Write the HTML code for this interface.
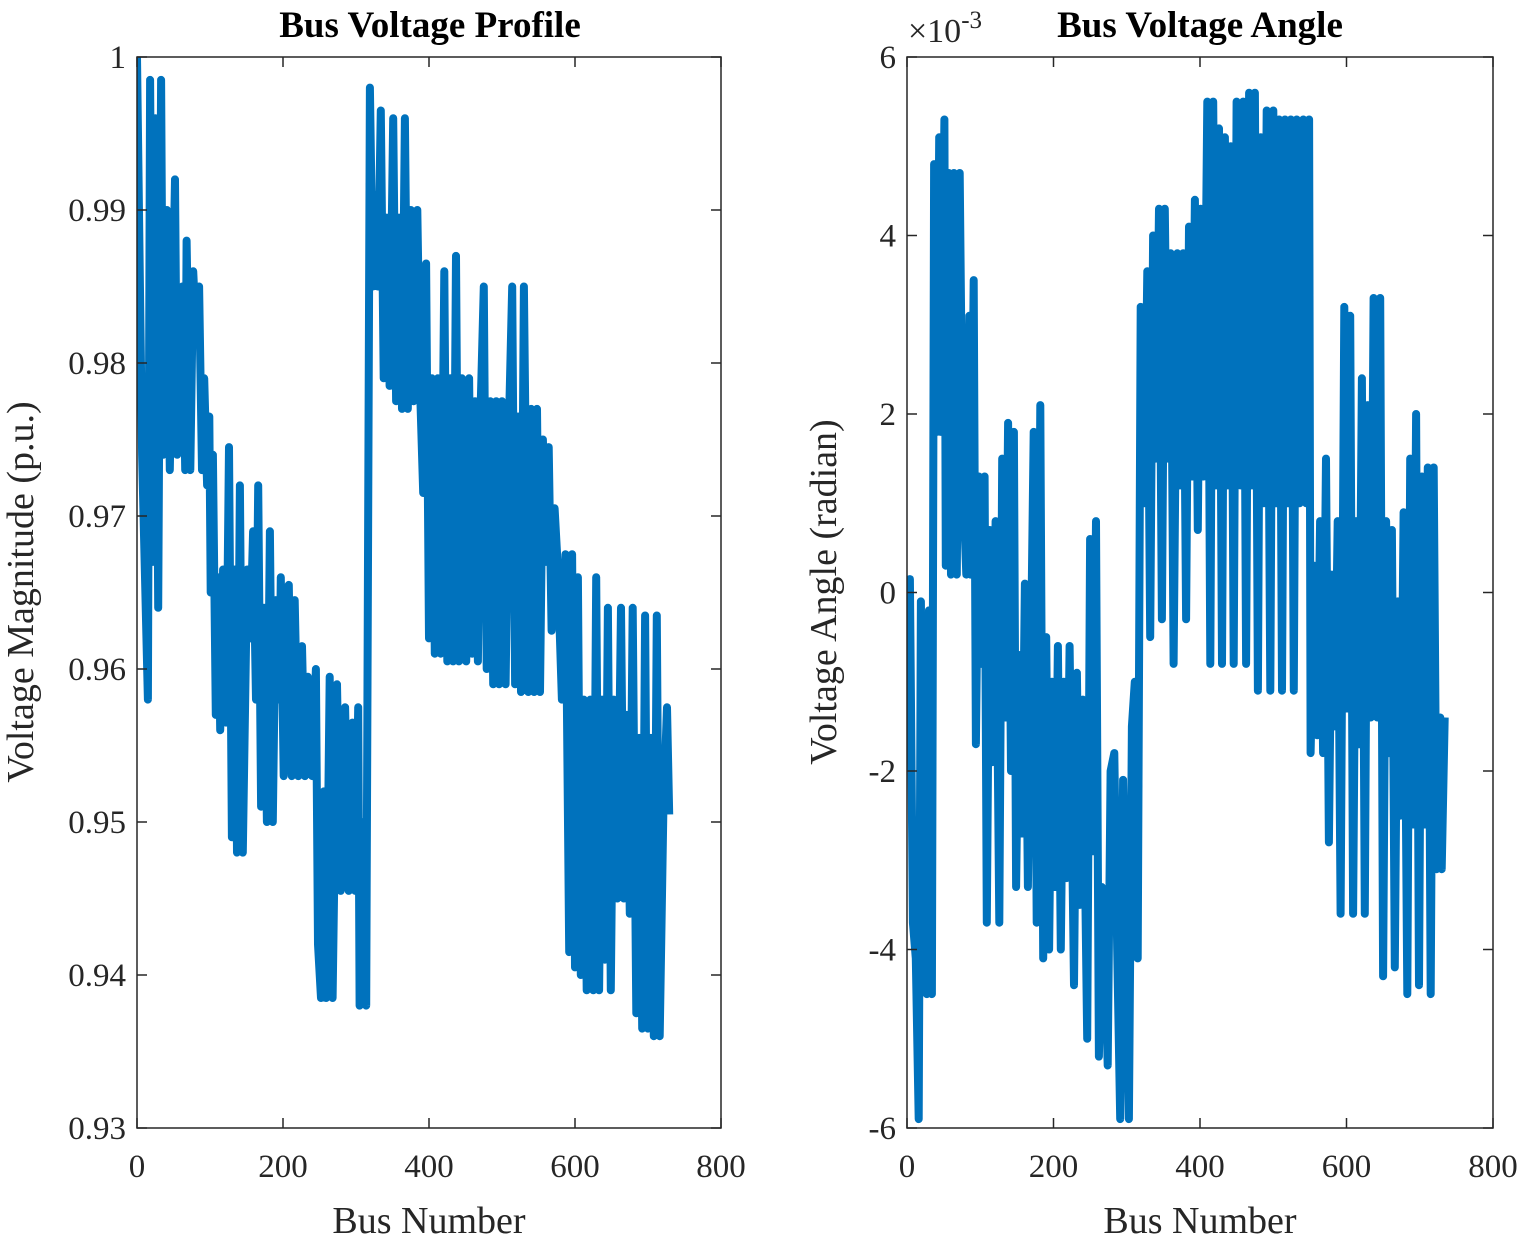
<!DOCTYPE html>
<html><head><meta charset="utf-8"><style>
html,body{margin:0;padding:0;background:#fff;}
svg{display:block;font-family:"Liberation Serif",serif;}
</style></head><body>
<svg id="chart" width="1522" height="1237" viewBox="0 0 1522 1237" xmlns="http://www.w3.org/2000/svg"></svg>
<script>
const xTicks=[0,200,400,600,800];
const magTicks=[0.93,0.94,0.95,0.96,0.97,0.98,0.99,1];
const magTickLabels=["0.93","0.94","0.95","0.96","0.97","0.98","0.99","1"];
const angTicks=[-6,-4,-2,0,2,4,6];
const angTickLabels=["-6","-4","-2","0","2","4","6"];
const magBuses=[0,7,15,18,22,25,29,33,36,41,45,52,55,62,66,68,73,77,81,85,89,92,96,99,101,104,108,111,114,118,122,126,130,134,137,141,145,151,155,159,163,166,170,174,178,182,186,190,195,197,201,208,212,216,221,226,230,234,240,245,248,252,256,259,264,268,274,279,285,290,295,299,303,305,310,314,319,323,327,330,334,338,342,346,351,355,359,363,367,371,375,379,384,388,392,396,400,404,408,412,416,421,425,429,433,437,441,445,451,455,459,463,467,471,475,479,484,488,492,496,500,505,510,514,518,522,526,530,536,540,544,548,552,556,560,564,568,572,576,582,587,592,596,600,604,608,612,616,621,625,629,633,637,641,645,649,653,658,663,667,671,675,679,684,688,692,696,700,704,708,712,716,721,726,729];
const magValues=[1.0,0.974,0.958,0.9985,0.967,0.996,0.964,0.9985,0.974,0.990,0.973,0.992,0.974,0.985,0.973,0.988,0.973,0.986,0.982,0.985,0.973,0.979,0.972,0.9765,0.965,0.974,0.957,0.966,0.956,0.9665,0.9565,0.9745,0.949,0.9665,0.948,0.972,0.948,0.9665,0.962,0.969,0.958,0.972,0.951,0.964,0.950,0.969,0.950,0.9645,0.958,0.966,0.953,0.9655,0.953,0.9645,0.953,0.9615,0.953,0.9595,0.953,0.960,0.942,0.9385,0.952,0.9385,0.9595,0.9385,0.959,0.9455,0.9575,0.9455,0.9565,0.9455,0.9575,0.938,0.950,0.938,0.998,0.985,0.991,0.985,0.9965,0.979,0.9895,0.9785,0.996,0.9775,0.9895,0.977,0.996,0.977,0.990,0.9775,0.990,0.978,0.9715,0.9865,0.962,0.979,0.961,0.979,0.961,0.986,0.9605,0.979,0.9605,0.987,0.9605,0.979,0.9605,0.979,0.961,0.9775,0.9605,0.9775,0.985,0.960,0.9775,0.959,0.9775,0.959,0.9775,0.959,0.977,0.985,0.959,0.9765,0.9585,0.985,0.9585,0.977,0.9585,0.977,0.9585,0.975,0.967,0.9745,0.9625,0.9705,0.967,0.958,0.9675,0.9415,0.9675,0.9405,0.966,0.940,0.958,0.939,0.958,0.939,0.966,0.939,0.958,0.941,0.964,0.939,0.958,0.945,0.964,0.945,0.957,0.944,0.964,0.9375,0.9555,0.9365,0.9635,0.9365,0.9555,0.936,0.9635,0.936,0.9505,0.9575,0.9505];
const angData=[[0,0],[4,0.15],[8,-3.7],[12,-4.1],[16,-5.9],[19,-0.1],[23,-4.0],[27,-4.5],[30,-0.2],[34,-4.5],[37,4.8],[41,1.8],[44,5.1],[46,1.8],[51,5.3],[53,0.3],[57,4.7],[60,0.2],[64,4.7],[68,0.2],[72,4.7],[76,1.3],[81,0.2],[85,3.1],[87,0.2],[91,3.5],[94,-1.7],[98,1.3],[102,-0.8],[106,1.3],[109,-3.7],[113,0.7],[117,-1.9],[121,0.8],[126,-3.7],[130,1.5],[134,-1.4],[138,1.9],[142,-2.0],[146,1.8],[149,-3.3],[153,-0.7],[157,-2.7],[161,0.1],[165,-3.3],[169,-0.8],[173,1.8],[177,-3.7],[182,2.1],[186,-4.1],[190,-0.5],[194,-4.0],[198,-1.0],[202,-3.3],[206,-0.6],[210,-4.0],[214,-1.0],[218,-3.2],[222,-0.6],[228,-4.4],[232,-0.9],[236,-3.5],[240,-1.2],[246,-5.0],[250,0.6],[254,-2.9],[258,0.8],[262,-5.2],[266,-3.3],[270,-4.0],[274,-5.3],[278,-2.0],[283,-1.8],[287,-4.0],[291,-5.9],[295,-2.1],[299,-4.0],[303,-5.9],[307,-1.5],[311,-1.0],[315,-4.1],[319,3.2],[324,1.0],[328,3.6],[332,-0.5],[336,4.0],[340,1.5],[344,4.3],[348,-0.3],[352,4.3],[356,1.5],[360,3.8],[364,-0.8],[369,3.8],[373,1.2],[377,3.8],[381,-0.3],[385,4.1],[389,1.3],[393,4.4],[397,0.7],[401,4.3],[405,1.3],[410,5.5],[414,-0.8],[418,5.5],[422,1.2],[426,5.2],[430,-0.8],[434,5.1],[438,1.2],[442,5.0],[446,-0.8],[450,5.5],[455,1.2],[459,5.5],[463,-0.8],[467,5.6],[471,1.2],[475,5.6],[479,-1.1],[483,5.1],[487,1.0],[491,5.4],[496,-1.1],[500,5.4],[504,1.0],[508,5.3],[512,-1.1],[516,5.3],[520,1.0],[524,5.3],[528,-1.1],[532,5.3],[536,1.0],[541,5.3],[545,1.0],[549,5.3],[551,-1.8],[556,0.3],[560,-1.6],[564,0.8],[568,-1.8],[572,1.5],[576,-2.8],[580,0.2],[584,-1.5],[588,0.8],[592,-3.6],[597,3.2],[601,-1.3],[605,3.1],[609,-3.6],[613,0.8],[617,-1.7],[621,2.4],[625,-3.6],[629,2.1],[633,-1.4],[637,3.3],[642,-1.4],[646,3.3],[650,-4.3],[654,0.8],[658,-1.8],[662,0.7],[666,-4.2],[670,-0.1],[674,-2.5],[678,0.9],[683,-4.5],[687,1.5],[691,-2.6],[695,2.0],[699,-4.4],[703,1.3],[707,-2.6],[711,1.4],[715,-4.5],[719,1.4],[723,-3.1],[728,-1.4],[730,-3.1],[734,-1.4]];

const NS="http://www.w3.org/2000/svg";
const svg=document.getElementById('chart');
function el(tag,attrs,parent){const e=document.createElementNS(NS,tag);for(const k in attrs)e.setAttribute(k,attrs[k]);(parent||svg).appendChild(e);return e;}

function panel(opt){
  const g=el('g',{});
  
  
  const L=opt.left,R=opt.right,T=57,B=1128;
  const sx=v=>L+(v-0)/(800-0)*(R-L);
  const sy=v=>B-(v-opt.ymin)/(opt.ymax-opt.ymin)*(B-T);
  const cid='clip-'+opt.name;
  const cp=el('clipPath',{id:cid},g);el('rect',{x:L,y:T-4,width:R-L,height:B-T+8},cp);
  const pts=opt.xs.map((x,i)=>sx(x).toFixed(1)+','+sy(opt.ys[i]).toFixed(1)).join(' ');
  const line=el('polyline',{points:pts,fill:'none',stroke:'#0072BD','stroke-width':8,'stroke-linejoin':'round','clip-path':'url(#'+cid+')'},g);
  
  
  const box=el('rect',{x:L,y:T,width:R-L,height:B-T,fill:'none',stroke:'#262626','stroke-width':1.5},g);
  
  
  xTicks.forEach(t=>{
    const x=sx(t);
    el('line',{x1:x,y1:B,x2:x,y2:B-10,stroke:'#262626','stroke-width':1.5},g);
    el('line',{x1:x,y1:T,x2:x,y2:T+10,stroke:'#262626','stroke-width':1.5},g);
    const tx=el('text',{x:x,y:1177,'font-size':33,'text-anchor':'middle',fill:'#262626'},g);
    tx.textContent=String(t);
    
    
  });
  opt.yt.forEach((t,i)=>{
    const y=sy(t);
    el('line',{x1:L,y1:y,x2:L+10,y2:y,stroke:'#262626','stroke-width':1.5},g);
    el('line',{x1:R,y1:y,x2:R-10,y2:y,stroke:'#262626','stroke-width':1.5},g);
    const tx=el('text',{x:L-11,y:y+11,'font-size':33,'text-anchor':'end',fill:'#262626'},g);
    tx.textContent=opt.ytl[i];
    
    
  });
  const xt=el('text',{x:(L+R)/2,y:1233,'font-size':38,'text-anchor':'middle',fill:'#262626'},g);
  xt.textContent='Bus Number';
  
  
  const yt=el('text',{x:0,y:0,'font-size':38,'text-anchor':'middle',fill:'#262626',transform:'translate('+opt.ytx+',592) rotate(-90)'},g);
  yt.textContent=opt.ytitle;
  
  
  const ti=el('text',{x:opt.titleX,y:37,'font-size':37,'font-weight':'bold','text-anchor':'middle',fill:'#000'},g);
  ti.textContent=opt.title;
  
  
}

panel({name:'voltage-profile',left:137,right:721,ymin:0.93,ymax:1,xs:magBuses,ys:magValues,yt:magTicks,ytl:magTickLabels,ytitle:'Voltage Magnitude (p.u.)',ytx:33,title:'Bus Voltage Profile',titleX:430});
panel({name:'voltage-angle',left:907,right:1493,ymin:-6,ymax:6,xs:angData.map(d=>d[0]),ys:angData.map(d=>d[1]),yt:angTicks,ytl:angTickLabels,ytitle:'Voltage Angle (radian)',ytx:836,title:'Bus Voltage Angle',titleX:1200});
const ex=el('text',{x:908,y:42,'font-size':34,fill:'#262626'});


ex.innerHTML='×10<tspan dy="-14" font-size="25">-3</tspan>';
</script>
</body></html>
